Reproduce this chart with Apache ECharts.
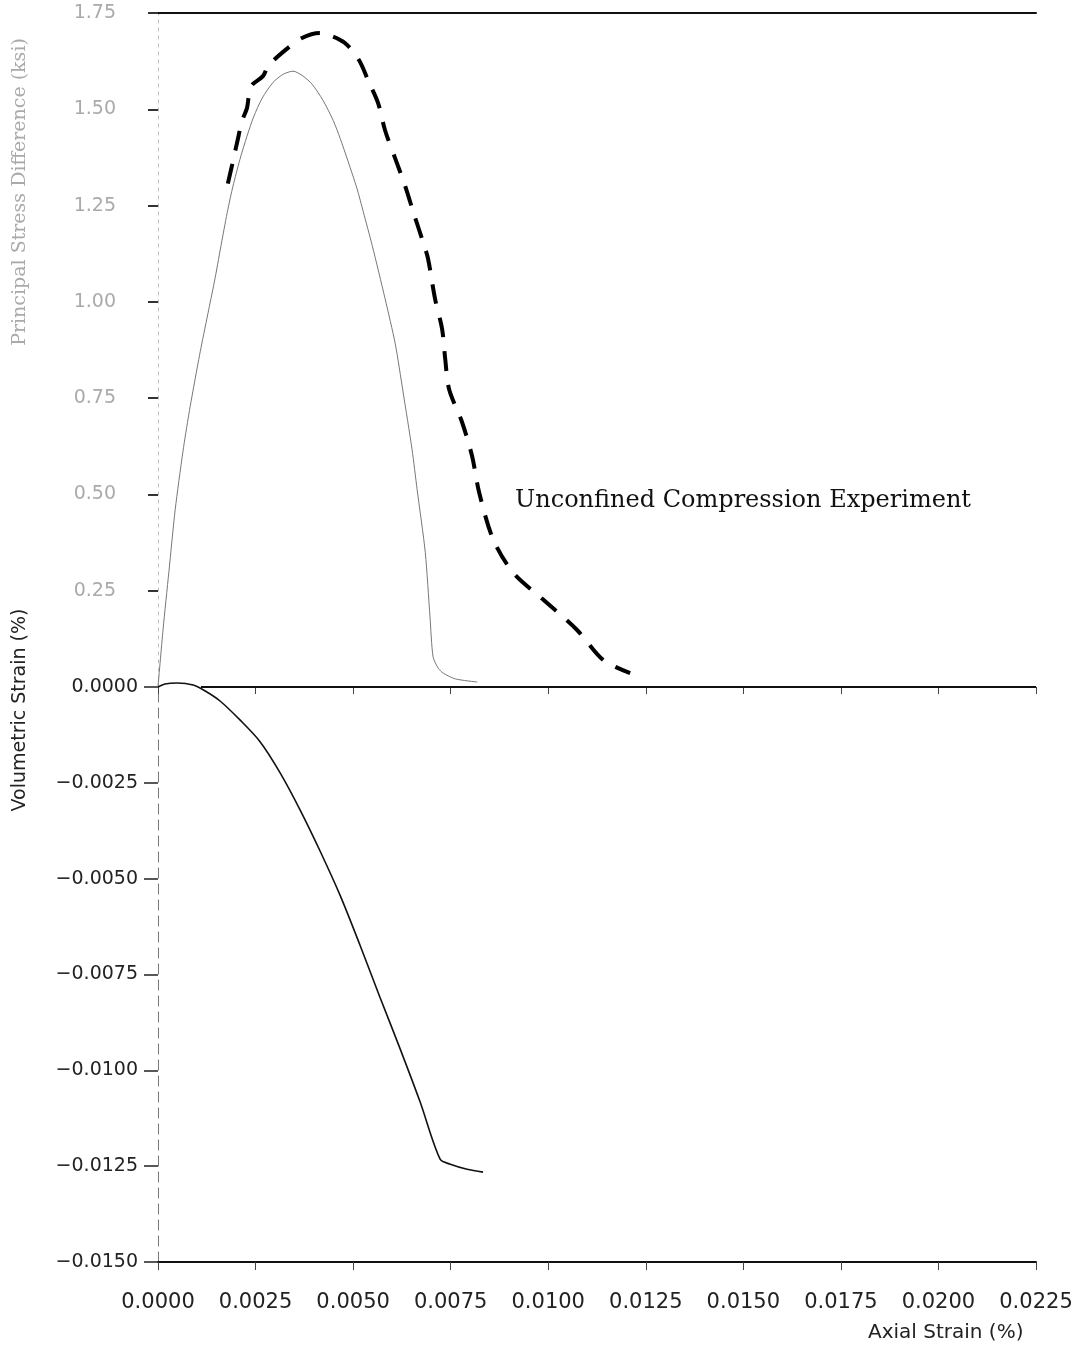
<!DOCTYPE html>
<html>
<head>
<meta charset="utf-8">
<script src="https://cdn.jsdelivr.net/npm/echarts@6/dist/echarts.min.js"></script>
<style>
html,body{margin:0;padding:0;background:#fff;}
#c{width:1084px;height:1355px;}
</style>
</head>
<body>
<div id="c"></div>
<script>
// Axial strain ticks
var xTicks = [0, 0.0025, 0.005, 0.0075, 0.01, 0.0125, 0.015, 0.0175, 0.02, 0.0225];
var stressTicks = [0.25, 0.5, 0.75, 1.0, 1.25, 1.5, 1.75];
var volTicks = [0, -0.0025, -0.005, -0.0075, -0.01, -0.0125, -0.015];

// Model: principal stress difference vs axial strain
var modelStrain = [0, 0.00013, 0.00028, 0.00044, 0.00064, 0.00079, 0.00095, 0.00110, 0.00130, 0.00146, 0.00164, 0.00179, 0.00192, 0.00210, 0.00228, 0.00245, 0.00267, 0.00295, 0.00321, 0.00346, 0.00372, 0.00395, 0.00423, 0.00449, 0.00467, 0.00487, 0.00510, 0.00526, 0.00549, 0.00582, 0.00608, 0.00628, 0.00651, 0.00664, 0.00685, 0.00697, 0.00705, 0.00718, 0.00731, 0.00762, 0.00818];
var modelStress = [0, 0.150, 0.300, 0.460, 0.612, 0.708, 0.799, 0.880, 0.980, 1.060, 1.160, 1.240, 1.300, 1.370, 1.430, 1.480, 1.529, 1.570, 1.591, 1.599, 1.586, 1.565, 1.523, 1.471, 1.424, 1.365, 1.294, 1.234, 1.146, 1.008, 0.891, 0.766, 0.617, 0.513, 0.349, 0.182, 0.078, 0.049, 0.036, 0.021, 0.013];

// Unconfined compression experiment
var expStrain = [0.00179, 0.00192, 0.00205, 0.00215, 0.00228, 0.00233, 0.00241, 0.00269, 0.00282, 0.00323, 0.00369, 0.00415, 0.00433, 0.00479, 0.00515, 0.00538, 0.00564, 0.00582, 0.00608, 0.00633, 0.00654, 0.00679, 0.00692, 0.00710, 0.00728, 0.00736, 0.00746, 0.00779, 0.00805, 0.00823, 0.00859, 0.00910, 0.00987, 0.01074, 0.01141, 0.01210];
var expStress = [1.307, 1.365, 1.424, 1.469, 1.503, 1.536, 1.563, 1.586, 1.612, 1.651, 1.685, 1.698, 1.695, 1.672, 1.628, 1.576, 1.516, 1.445, 1.372, 1.302, 1.234, 1.156, 1.112, 1.008, 0.930, 0.852, 0.773, 0.688, 0.599, 0.505, 0.383, 0.297, 0.227, 0.148, 0.070, 0.036];

// Model: volumetric strain vs axial strain
var volStrainX = [0, 0.00018, 0.00049, 0.00090, 0.00121, 0.00159, 0.00210, 0.00262, 0.00313, 0.00364, 0.00415, 0.00467, 0.00518, 0.00569, 0.00621, 0.00672, 0.00723, 0.00749, 0.00792, 0.00833];
var volStrain = [0, 0.000078, 0.000104, 0.000052, -0.000104, -0.000365, -0.000859, -0.001432, -0.002239, -0.003203, -0.004271, -0.005442, -0.006744, -0.008098, -0.009453, -0.010833, -0.012318, -0.012448, -0.012578, -0.012656];

// zero reference line
var zeroLineX = [0.0011, 0.0225];
var zeroLineY = [0, 0];

function zip(a, b) { return a.map(function (v, i) { return [v, b[i]]; }); }

var FONT = 'DejaVu Sans';
var chart = echarts.init(document.getElementById('c'), null, {renderer: 'canvas'});
var option = {
  backgroundColor: '#ffffff',
  animation: false,
  grid: [
    {left: 158, right: 48, top: 13, height: 674},
    {left: 158, right: 48, top: 687, height: 575}
  ],
  xAxis: [
    {gridIndex: 0, type: 'value', position: 'top', min: 0, max: 0.0225, interval: 0.0025,
      axisLine: {show: true, onZero: false, lineStyle: {color: '#111', width: 2}},
      axisTick: {show: false}, axisLabel: {show: false}, splitLine: {show: false}},
    {gridIndex: 1, type: 'value', position: 'bottom', min: 0, max: 0.0225, interval: 0.0025,
      axisLine: {show: true, onZero: false, lineStyle: {color: '#111', width: 2}},
      axisTick: {show: true, length: 8, lineStyle: {color: '#444', width: 1}},
      axisLabel: {show: true, margin: 30, fontFamily: FONT, fontSize: 21, color: '#222',
        formatter: function (v) { return v.toFixed(4); }},
      splitLine: {show: false}},
    {gridIndex: 1, type: 'value', position: 'top', min: 0, max: 0.0225, interval: 0.0025,
      axisLine: {show: false, onZero: false},
      axisTick: {show: true, inside: true, length: 7, lineStyle: {color: '#444', width: 1}},
      axisLabel: {show: false}, splitLine: {show: false}}
  ],
  yAxis: [
    {gridIndex: 0, type: 'value', min: 0, max: 1.75, interval: 0.25,
      axisLine: {show: true, onZero: false, lineStyle: {color: '#bbb', width: 1, type: [3, 5]}},
      axisTick: {show: true, length: 10, lineStyle: {color: '#333', width: 2}},
      axisLabel: {show: true, margin: 42, fontFamily: FONT, fontSize: 19, color: '#aaa', showMinLabel: false,
        formatter: function (v) { return v.toFixed(2); }},
      splitLine: {show: false}},
    {gridIndex: 1, type: 'value', min: -0.015, max: 0, interval: 0.0025,
      axisLine: {show: true, onZero: false, lineStyle: {color: '#777', width: 1, type: [10, 6]}},
      axisTick: {show: true, length: 14, lineStyle: {color: '#222', width: 1.5}},
      axisLabel: {show: true, margin: 20, fontFamily: FONT, fontSize: 19, color: '#222',
        formatter: function (v) { return v.toFixed(4).replace('-', '\u2212'); }},
      splitLine: {show: false}}
  ],
  series: [
    {name: 'Model stress', type: 'line', xAxisIndex: 0, yAxisIndex: 0, data: zip(modelStrain, modelStress),
      showSymbol: false, smooth: 0.25, lineStyle: {color: '#777', width: 1}, z: 2},
    {name: 'Unconfined Compression Experiment', type: 'line', xAxisIndex: 0, yAxisIndex: 0, data: zip(expStrain, expStress),
      showSymbol: false, smooth: 0.3, lineStyle: {color: '#000', width: 4, type: [20, 14]}, z: 3},
    {name: 'Volumetric strain', type: 'line', xAxisIndex: 1, yAxisIndex: 1, data: zip(volStrainX, volStrain),
      showSymbol: false, smooth: 0.3, clip: false, lineStyle: {color: '#111', width: 1.6}, z: 3},
    {name: 'Zero', type: 'line', xAxisIndex: 1, yAxisIndex: 1, data: zip(zeroLineX, zeroLineY), clip: false,
      showSymbol: false, lineStyle: {color: '#111', width: 2}, z: 2}
  ],
  graphic: [
    {type: 'text', left: 515, top: 489,
      style: {text: 'Unconfined Compression Experiment', font: '24px "DejaVu Serif"', fill: '#111'}},
    {type: 'text', left: 868, top: 1323,
      style: {text: 'Axial Strain (%)', font: '20px "DejaVu Sans"', fill: '#222'}},
    {type: 'text', x: 20, y: 710, rotation: Math.PI / 2,
      style: {text: 'Volumetric Strain (%)', font: '19px "DejaVu Sans"', fill: '#222', align: 'center', verticalAlign: 'middle'}},
    {type: 'text', x: 20, y: 192, rotation: Math.PI / 2,
      style: {text: 'Principal Stress Difference (ksi)', font: '19px "DejaVu Serif"', fill: '#aaa', align: 'center', verticalAlign: 'middle'}}
  ]
};
chart.setOption(option);
</script>
</body>
</html>
